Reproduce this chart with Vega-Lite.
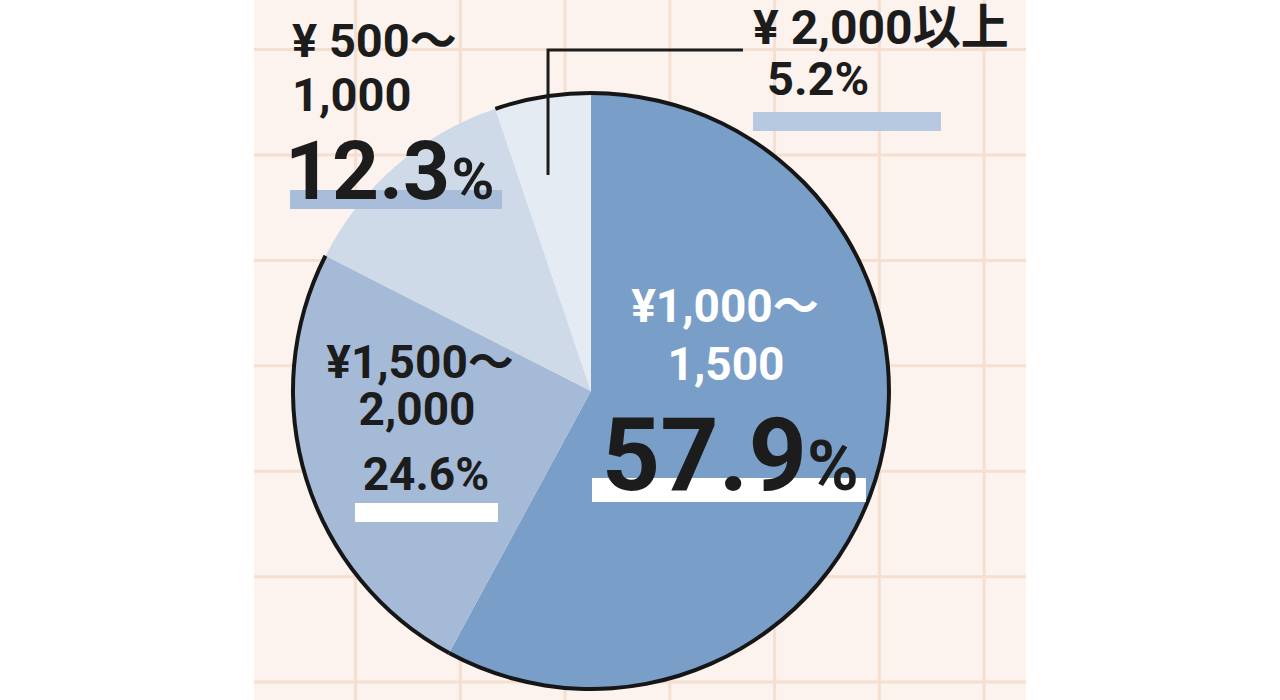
{
  "$schema": "https://vega.github.io/schema/vega-lite/v6.json",
  "width": 772,
  "height": 700,
  "autosize": {"type": "none"},
  "padding": {"left": 254, "right": 254, "top": 0, "bottom": 0},
  "background": "#ffffff",
  "config": {
    "view": {"stroke": null, "fill": "#fcf3ee"},
    "text": {"font": "Roboto, 'Noto Sans CJK JP', sans-serif", "fontWeight": "bold", "baseline": "alphabetic", "color": "#1c1c1c"}
  },
  "layer": [
    {
      "data": {"values": [{"g": 0}, {"g": 1}, {"g": 2}, {"g": 3}, {"g": 4}, {"g": 5}, {"g": 6}]},
      "mark": {"type": "rule", "color": "#f4dfd0", "strokeWidth": 3},
      "encoding": {
        "x": {"field": "g", "type": "quantitative", "scale": {"domain": [-0.97, 6.4], "zero": false, "nice": false}, "axis": null}
      }
    },
    {
      "data": {"values": [{"g": 0}, {"g": 1}, {"g": 2}, {"g": 3}, {"g": 4}, {"g": 5}, {"g": 6}]},
      "mark": {"type": "rule", "color": "#f4dfd0", "strokeWidth": 3},
      "encoding": {
        "y": {"field": "g", "type": "quantitative", "scale": {"domain": [-0.47, 6.17], "reverse": true, "zero": false, "nice": false}, "axis": null}
      }
    },
    {
      "data": {"name": "slices", "values": [
        {"label": "¥1,000～1,500", "pct": 57.9, "ord": 1},
        {"label": "¥1,500～2,000", "pct": 24.6, "ord": 2},
        {"label": "¥500～1,000", "pct": 12.3, "ord": 3},
        {"label": "¥2,000以上", "pct": 5.2, "ord": 4}
      ]},
      "layer": [
        {
          "mark": {"type": "arc", "outerRadius": 298, "stroke": null},
          "encoding": {
            "theta": {"field": "pct", "type": "quantitative", "stack": true},
            "order": {"field": "ord", "type": "quantitative"},
            "color": {"field": "label", "type": "nominal", "legend": null,
              "scale": {"domain": ["¥1,000～1,500", "¥1,500～2,000", "¥500～1,000", "¥2,000以上"],
                        "range": ["#799ec8", "#a5bad7", "#cfdae8", "#e5ebf3"]}},
            "x": {"datum": 2.247, "type": "quantitative", "scale": {"domain": [-0.97, 6.4], "zero": false, "nice": false}, "axis": null},
            "y": {"datum": 3.239, "type": "quantitative", "scale": {"domain": [-0.47, 6.17], "reverse": true, "zero": false, "nice": false}, "axis": null}
          }
        },
        {
          "mark": {"type": "arc", "innerRadius": 296, "outerRadius": 300, "color": "#161616", "stroke": null},
          "encoding": {
            "theta": {"field": "pct", "type": "quantitative", "stack": true},
            "order": {"field": "ord", "type": "quantitative"},
            "opacity": {"condition": {"test": "datum.label === '¥500～1,000'", "value": 0}, "value": 1},
            "x": {"datum": 2.247, "type": "quantitative"},
            "y": {"datum": 3.239, "type": "quantitative"}
          }
        }
      ]
    },
    {
      "data": {"values": [
        {"bar": "12.3", "x1": -0.626, "x2": 1.398, "y1": 1.332, "y2": 1.513}
      ]},
      "mark": {"type": "rect", "color": "#a8bdd9"},
      "encoding": {
        "x": {"field": "x1", "type": "quantitative"},
        "x2": {"field": "x2"},
        "y": {"field": "y1", "type": "quantitative"},
        "y2": {"field": "y2"}
      }
    },
    {
      "data": {"values": [
        {"bar": "5.2", "x1": 3.794, "x2": 5.588, "y1": 0.592, "y2": 0.773}
      ]},
      "mark": {"type": "rect", "color": "#b7c9e0"},
      "encoding": {
        "x": {"field": "x1", "type": "quantitative"},
        "x2": {"field": "x2"},
        "y": {"field": "y1", "type": "quantitative"},
        "y2": {"field": "y2"}
      }
    },
    {
      "data": {"values": [
        {"bar": "24.6", "x1": -0.006, "x2": 1.359, "y1": 4.301, "y2": 4.482},
        {"bar": "57.9", "x1": 2.257, "x2": 4.872, "y1": 4.064, "y2": 4.292}
      ]},
      "mark": {"type": "rect", "color": "#ffffff"},
      "encoding": {
        "x": {"field": "x1", "type": "quantitative"},
        "x2": {"field": "x2"},
        "y": {"field": "y1", "type": "quantitative"},
        "y2": {"field": "y2"}
      }
    },
    {
      "data": {"values": [
        {"u": 1.837, "v": 1.19, "k": 0},
        {"u": 1.837, "v": 0.004, "k": 1},
        {"u": 3.698, "v": 0.004, "k": 2}
      ]},
      "mark": {"type": "line", "color": "#1c1c1c", "strokeWidth": 3, "strokeCap": "butt", "strokeJoin": "miter"},
      "encoding": {
        "x": {"field": "u", "type": "quantitative"},
        "y": {"field": "v", "type": "quantitative"},
        "order": {"field": "k", "type": "quantitative"}
      }
    },
    {
      "data": {"values": [
        {"t": "¥ 500～", "u": -0.607, "v": 0.071},
        {"t": "1,000", "u": -0.607, "v": 0.583},
        {"t": "5.2%", "u": 3.927, "v": 0.431}
      ]},
      "mark": {"type": "text", "align": "left", "fontSize": 47},
      "encoding": {
        "x": {"field": "u", "type": "quantitative"},
        "y": {"field": "v", "type": "quantitative"},
        "text": {"field": "t"}
      }
    },
    {
      "data": {"values": [
        {"t": "¥ 2,000以上", "u": 3.794, "v": -0.048}
      ]},
      "mark": {"type": "text", "align": "left", "fontSize": 48},
      "encoding": {
        "x": {"field": "u", "type": "quantitative"},
        "y": {"field": "v", "type": "quantitative"},
        "text": {"field": "t"}
      }
    },
    {
      "data": {"values": [
        {"t": "¥1,500～", "u": 0.615, "v": 3.116},
        {"t": "2,000", "u": 0.586, "v": 3.562},
        {"t": "24.6%", "u": 0.672, "v": 4.178}
      ]},
      "mark": {"type": "text", "align": "center", "fontSize": 46, "color": "#1c1c1c"},
      "encoding": {
        "x": {"field": "u", "type": "quantitative"},
        "y": {"field": "v", "type": "quantitative"},
        "text": {"field": "t"}
      }
    },
    {
      "data": {"values": [
        {"t": "¥1,000～", "u": 3.526, "v": 2.584},
        {"t": "1,500", "u": 3.536, "v": 3.135}
      ]},
      "mark": {"type": "text", "align": "center", "fontSize": 46, "color": "#ffffff"},
      "encoding": {
        "x": {"field": "u", "type": "quantitative"},
        "y": {"field": "v", "type": "quantitative"},
        "text": {"field": "t"}
      }
    },
    {
      "data": {"values": [{"t": "12.3", "u": 0.901, "v": 1.418}]},
      "mark": {"type": "text", "align": "right", "fontSize": 82},
      "encoding": {
        "x": {"field": "u", "type": "quantitative"},
        "y": {"field": "v", "type": "quantitative"},
        "text": {"field": "t"}
      }
    },
    {
      "data": {"values": [{"t": "%", "u": 0.915, "v": 1.418}]},
      "mark": {"type": "text", "align": "left", "fontSize": 58},
      "encoding": {
        "x": {"field": "u", "type": "quantitative"},
        "y": {"field": "v", "type": "quantitative"},
        "text": {"field": "t"}
      }
    },
    {
      "data": {"values": [{"t": "57.9", "u": 4.309, "v": 4.178}]},
      "mark": {"type": "text", "align": "right", "fontSize": 102, "letterSpacing": 4},
      "encoding": {
        "x": {"field": "u", "type": "quantitative"},
        "y": {"field": "v", "type": "quantitative"},
        "text": {"field": "t"}
      }
    },
    {
      "data": {"values": [{"t": "%", "u": 4.31, "v": 4.178}]},
      "mark": {"type": "text", "align": "left", "fontSize": 70},
      "encoding": {
        "x": {"field": "u", "type": "quantitative"},
        "y": {"field": "v", "type": "quantitative"},
        "text": {"field": "t"}
      }
    }
  ]
}
